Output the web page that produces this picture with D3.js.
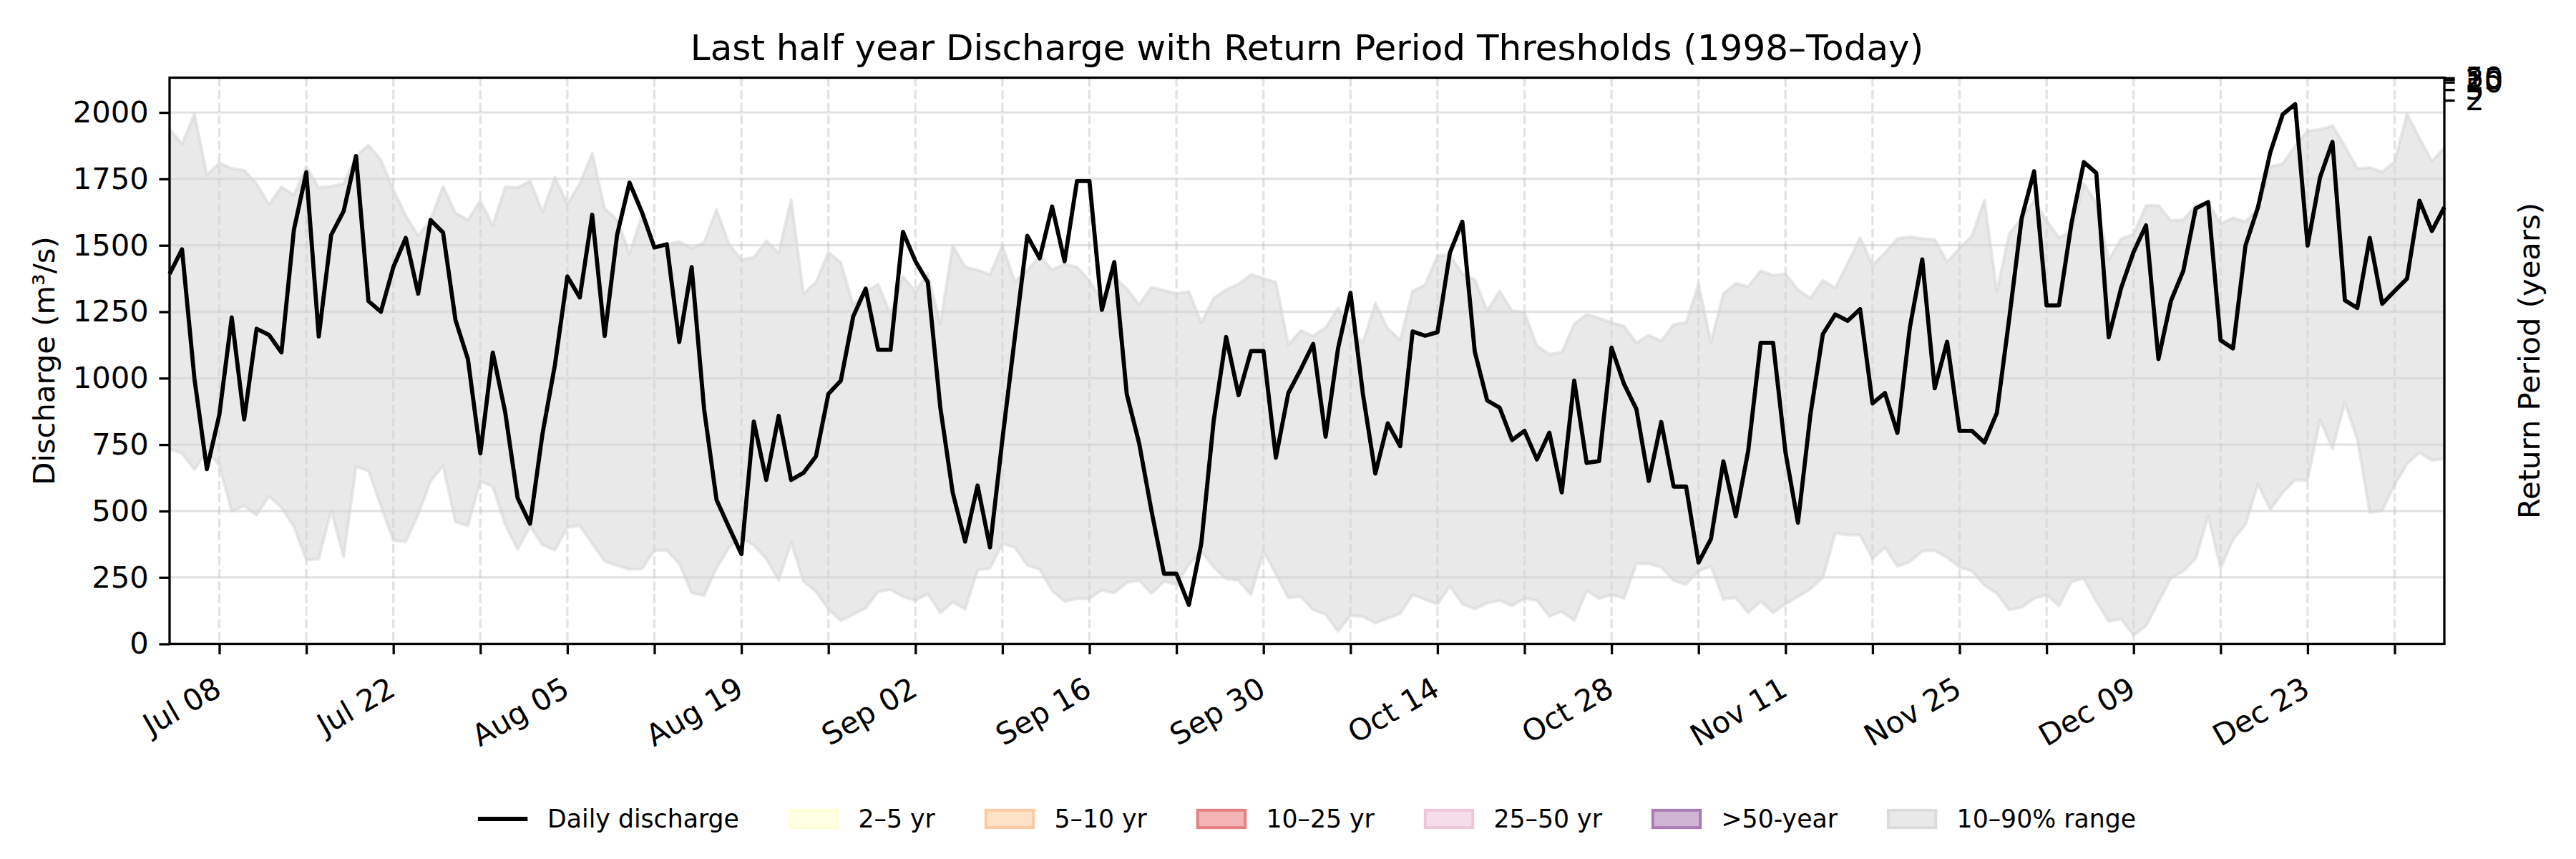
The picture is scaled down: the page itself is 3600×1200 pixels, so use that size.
<!DOCTYPE html>
<html>
<head>
<meta charset="utf-8">
<script src="https://cdn.jsdelivr.net/npm/d3@7"></script>
<style>
  body { margin: 0; background: #fff; }
  svg text { font-family: "DejaVu Sans", sans-serif; fill: #000; }
</style>
</head>
<body>
<svg id="chart" width="3600" height="1200"></svg>
<script>
// daily discharge (m3/s), one value per day from Jul 04
var discharge = [
  1392, 1485, 998, 658, 862, 1229, 845, 1186, 1163, 1097,
  1558, 1775, 1157, 1539, 1628, 1836, 1290, 1250, 1418, 1528,
  1318, 1595, 1548, 1219, 1072, 717, 1097, 872, 549, 452,
  791, 1050, 1383, 1304, 1615, 1159, 1539, 1736, 1625, 1492,
  1504, 1136, 1418, 884, 542, 439, 338, 837, 617, 858,
  617, 644, 706, 941, 991, 1233, 1337, 1107, 1107, 1551,
  1440, 1361, 891, 570, 385, 596, 363, 770, 1154, 1536,
  1451, 1646, 1440, 1742, 1742, 1257, 1437, 941, 755, 499,
  264, 264, 147, 378, 841, 1155, 936, 1102, 1102, 701,
  944, 1033, 1129, 780, 1112, 1321, 941, 641, 830, 744,
  1176, 1160, 1173, 1472, 1589, 1100, 916, 889, 767, 802,
  694, 795, 570, 991, 681, 688, 1115, 979, 884, 613,
  835, 592, 592, 306, 395, 687, 480, 727, 1133, 1133,
  720, 456, 862, 1166, 1240, 1216, 1260, 905, 944, 794,
  1190, 1447, 962, 1137, 802, 802, 758, 869, 1226, 1603,
  1779, 1274, 1274, 1582, 1813, 1772, 1154, 1340, 1475, 1575,
  1072, 1290, 1404, 1639, 1663, 1143, 1112, 1499, 1642, 1850,
  1993, 2031, 1499, 1756, 1889, 1293, 1264, 1528, 1280, 1328,
  1375, 1668, 1554, 1643
];

// 90th percentile of the same calendar day, 1998-today
var p90 = [
  1938, 1881, 1995, 1765, 1810, 1789, 1782, 1732, 1653, 1720,
  1689, 1796, 1717, 1722, 1732, 1836, 1877, 1822, 1710, 1611,
  1536, 1596, 1722, 1622, 1596, 1668, 1575, 1720, 1717, 1742,
  1625, 1756, 1656, 1732, 1846, 1639, 1596, 1468, 1611, 1497,
  1504, 1514, 1489, 1511, 1635, 1504, 1447, 1454, 1517, 1472,
  1672, 1318, 1361, 1475, 1435, 1276, 1326, 1354, 1240, 1383,
  1326, 1393, 1204, 1499, 1418, 1407, 1390, 1499, 1364, 1404,
  1461, 1407, 1430, 1418, 1368, 1290, 1380, 1337, 1276, 1343,
  1330, 1318, 1326, 1209, 1301, 1333, 1354, 1390, 1375, 1361,
  1126, 1179, 1159, 1190, 1264, 1183, 1133, 1283, 1187, 1143,
  1328, 1351, 1461, 1464, 1393, 1371, 1254, 1328, 1254, 1247,
  1122, 1090, 1097, 1204, 1240, 1226, 1209, 1197, 1133, 1162,
  1140, 1202, 1209, 1354, 1136, 1318, 1357, 1344, 1404, 1387,
  1393, 1333, 1301, 1368, 1340, 1432, 1529, 1425, 1472, 1525,
  1532, 1525, 1522, 1437, 1489, 1536, 1670, 1326, 1544, 1603,
  1668, 1593, 1528, 1554, 1732, 1660, 1445, 1525, 1542, 1650,
  1650, 1593, 1596, 1650, 1660, 1582, 1603, 1589, 1639, 1796,
  1807, 1874, 1931, 1936, 1950, 1874, 1789, 1792, 1777, 1813,
  1995, 1903, 1817, 1867
];

// 10th percentile
var p10 = [
  734, 717, 656, 727, 673, 499, 520, 485, 556, 513,
  442, 316, 319, 502, 328, 667, 651, 520, 389, 385,
  487, 613, 670, 459, 445, 613, 592, 449, 356, 442,
  373, 353, 439, 445, 378, 311, 295, 281, 282, 352,
  352, 302, 192, 182, 285, 363, 399, 371, 321, 239,
  382, 235, 197, 131, 88, 111, 135, 197, 204, 178,
  164, 188, 117, 157, 131, 278, 285, 378, 363, 296,
  281, 200, 160, 171, 171, 202, 192, 231, 239, 190,
  235, 224, 299, 349, 289, 245, 239, 185, 349, 264,
  174, 178, 128, 111, 47, 107, 103, 78, 97, 114,
  185, 167, 150, 217, 150, 131, 154, 164, 143, 171,
  164, 104, 121, 88, 200, 171, 185, 171, 302, 302,
  289, 238, 224, 275, 292, 168, 174, 117, 160, 118,
  150, 178, 207, 249, 416, 410, 410, 321, 363, 292,
  309, 349, 352, 325, 289, 274, 221, 190, 128, 138,
  171, 185, 143, 235, 245, 161, 85, 93, 33, 68,
  157, 247, 274, 321, 482, 285, 392, 449, 601, 506,
  570, 616, 616, 844, 734, 908, 770, 495, 502, 599,
  677, 720, 691, 696
];

// return period thresholds (years and discharge)
var returnPeriods = [2, 5, 10, 25, 50];
var thresholds = [2046, 2086, 2114, 2124, 2130];

var yTicks = [0, 250, 500, 750, 1000, 1250, 1500, 1750, 2000];

var legendItems = [
  {label: "Daily discharge", type: "line"},
  {label: "2\u20135 yr", type: "patch", fill: "#ffffe3", stroke: "#fefed6"},
  {label: "5\u201310 yr", type: "patch", fill: "#fde2c8", stroke: "#fbcba2"},
  {label: "10\u201325 yr", type: "patch", fill: "#f2b4b4", stroke: "#e58080"},
  {label: "25\u201350 yr", type: "patch", fill: "#f6dde9", stroke: "#f0c6da"},
  {label: ">50-year", type: "patch", fill: "#d0b4d6", stroke: "#a87bb5"},
  {label: "10\u201390% range", type: "patch", fill: "#e9e9e9", stroke: "#dcdcdc"}
];

var startDate = new Date(2024, 6, 4);
var dates = discharge.map(function(d, i) { return d3.timeDay.offset(startDate, i); });

// plot box in pixels
var plotLeft = 237, plotRight = 3416, plotTop = 108.5, plotBottom = 899.5;
var tickLen = 14.6, tickPad = 14.6, lw = 3.3;
var fs = 41.7;

var svg = d3.select("#chart");
svg.append("rect").attr("width", 3600).attr("height", 1200).attr("fill", "#fff");

var x = d3.scaleTime().domain([dates[0], dates[dates.length - 1]]).range([plotLeft, plotRight]);
var y = d3.scaleLinear().domain([0, 2131]).range([plotBottom, plotTop]);

var weeks = d3.timeMonday.range(dates[0], d3.timeDay.offset(dates[dates.length - 1], 1));
var fmt = d3.timeFormat("%b %d");

var plot = svg.append("g");

// grid
plot.selectAll("line.hgrid").data(yTicks).enter().append("line")
  .attr("class", "hgrid")
  .attr("x1", plotLeft).attr("x2", plotRight)
  .attr("y1", function(d) { return y(d); }).attr("y2", function(d) { return y(d); })
  .attr("stroke", "#b0b0b0").attr("stroke-opacity", 0.35).attr("stroke-width", lw);

plot.selectAll("line.vgrid").data(weeks).enter().append("line")
  .attr("class", "vgrid")
  .attr("x1", function(d) { return x(d); }).attr("x2", function(d) { return x(d); })
  .attr("y1", plotTop).attr("y2", plotBottom)
  .attr("stroke", "#b0b0b0").attr("stroke-opacity", 0.35).attr("stroke-width", lw)
  .attr("stroke-dasharray", "12.3,5.3");

// 10-90% band
var band = d3.area()
  .x(function(d, i) { return x(dates[i]); })
  .y0(function(d, i) { return y(p10[i]); })
  .y1(function(d, i) { return y(p90[i]); });

plot.append("path").datum(discharge)
  .attr("d", band)
  .attr("fill", "#d3d3d3").attr("fill-opacity", 0.5)
  .attr("stroke", "#d3d3d3").attr("stroke-opacity", 0.5).attr("stroke-width", 4.2)
  .attr("stroke-linejoin", "round");

// discharge line
var line = d3.line()
  .x(function(d, i) { return x(dates[i]); })
  .y(function(d) { return y(d); });

plot.append("path").datum(discharge)
  .attr("d", line)
  .attr("fill", "none").attr("stroke", "#000").attr("stroke-width", 5.8)
  .attr("stroke-linejoin", "round").attr("stroke-linecap", "butt");

// axes
function styleAxis(g) {
  g.select(".domain").remove();
  g.selectAll(".tick line").attr("stroke", "#000").attr("stroke-width", lw);
  g.selectAll(".tick text").attr("font-size", fs).attr("font-family", "DejaVu Sans");
}

var yAxis = d3.axisLeft(y).tickValues(yTicks).tickFormat(d3.format("d"))
  .tickSize(tickLen).tickPadding(tickPad);
svg.append("g").attr("transform", "translate(" + plotLeft + ",0)").call(yAxis).call(styleAxis);

var xAxis = d3.axisBottom(x).tickValues(weeks).tickSize(tickLen).tickPadding(tickPad)
  .tickFormat(function(d, i) { return i % 2 === 0 ? fmt(d) : ""; });
var gx = svg.append("g").attr("transform", "translate(0," + plotBottom + ")").call(xAxis).call(styleAxis);
gx.selectAll(".tick text")
  .attr("y", 0).attr("x", 0).attr("dy", null)
  .attr("text-anchor", "end")
  .attr("transform", "translate(5,70.5) rotate(-30)");

var yRight = d3.axisRight(y).tickValues(thresholds).tickSize(tickLen).tickPadding(tickPad)
  .tickFormat(function(d, i) { return returnPeriods[i]; });
svg.append("g").attr("transform", "translate(" + plotRight + ",0)").call(yRight).call(styleAxis);

// frame
svg.append("rect")
  .attr("x", plotLeft).attr("y", plotTop)
  .attr("width", plotRight - plotLeft).attr("height", plotBottom - plotTop)
  .attr("fill", "none").attr("stroke", "#000").attr("stroke-width", lw);

// labels
svg.append("text")
  .attr("x", (plotLeft + plotRight) / 2).attr("y", 84)
  .attr("text-anchor", "middle").attr("font-size", 50)
  .text("Last half year Discharge with Return Period Thresholds (1998\u2013Today)");

svg.append("text")
  .attr("transform", "translate(76," + (plotTop + plotBottom) / 2 + ") rotate(-90)")
  .attr("text-anchor", "middle").attr("font-size", fs)
  .text("Discharge (m\u00b3/s)");

svg.append("text")
  .attr("transform", "translate(3549," + (plotTop + plotBottom) / 2 + ") rotate(-90)")
  .attr("text-anchor", "middle").attr("font-size", fs)
  .text("Return Period (years)");

// legend, one row under the plot
var lfs = 34.7, handleW = 69.4, handleH = 24.3, handlePad = 27.8, colSpace = 69.4, ly = 1144;
var lg = svg.append("g");
var widths = legendItems.map(function(d) {
  var t = lg.append("text").attr("font-size", lfs).text(d.label);
  var w = t.node().getComputedTextLength();
  t.remove();
  return w;
});
var total = d3.sum(widths) + legendItems.length * (handleW + handlePad) + (legendItems.length - 1) * colSpace;
var cx = (plotLeft + plotRight) / 2 - total / 2;

legendItems.forEach(function(d, i) {
  var g = lg.append("g").attr("transform", "translate(" + cx + "," + ly + ")");
  if (d.type === "line") {
    g.append("line").attr("x1", 0).attr("x2", handleW).attr("y1", 0).attr("y2", 0)
      .attr("stroke", "#000").attr("stroke-width", 5.8);
  } else {
    g.append("rect").attr("x", 1.5).attr("y", -handleH / 2).attr("width", handleW - 3).attr("height", handleH)
      .attr("fill", d.fill).attr("stroke", d.stroke).attr("stroke-width", 4);
  }
  g.append("text").attr("x", handleW + handlePad).attr("y", 0)
    .attr("dominant-baseline", "central").attr("font-size", lfs).text(d.label);
  cx += handleW + handlePad + widths[i] + colSpace;
});
</script>
</body>
</html>
